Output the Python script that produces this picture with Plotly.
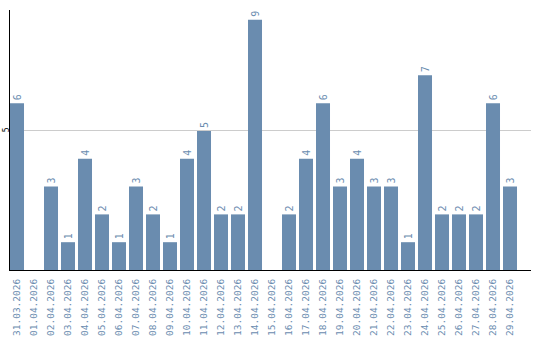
import plotly.graph_objects as go

dates = ["31.03.2026", "01.04.2026", "02.04.2026", "03.04.2026", "04.04.2026", "05.04.2026",
         "06.04.2026", "07.04.2026", "08.04.2026", "09.04.2026", "10.04.2026", "11.04.2026",
         "12.04.2026", "13.04.2026", "14.04.2026", "15.04.2026", "16.04.2026", "17.04.2026",
         "18.04.2026", "19.04.2026", "20.04.2026", "21.04.2026", "22.04.2026", "23.04.2026",
         "24.04.2026", "25.04.2026", "26.04.2026", "27.04.2026", "28.04.2026", "29.04.2026"]
counts = [6, 0, 3, 1, 4, 2, 1, 3, 2, 1, 4, 5, 2, 2, 9, 0, 2, 4, 6, 3, 4, 3, 3, 1, 7, 2, 2, 2, 6, 3]

color = "#6a8caf"
labels = [str(v) if v else "" for v in counts]

fig = go.Figure(go.Bar(
    x=dates, y=counts, marker_color=color, marker_line_width=0,
    text=labels, textposition="outside", textangle=-90,
    textfont=dict(family="DejaVu Sans Mono", size=10, color=color),
    cliponaxis=False, constraintext="none", hoverinfo="skip",
))

fig.update_layout(
    width=540, height=340, margin=dict(l=10, r=9, t=10, b=70),
    paper_bgcolor="white", plot_bgcolor="white", showlegend=False, bargap=0.176,
    xaxis=dict(type="category", range=[-0.412, 30.235], showgrid=False, automargin=False,
               showline=True, linecolor="black", linewidth=1,
               tickangle=-90, ticks="outside", ticklen=4, tickcolor="white",
               tickfont=dict(family="DejaVu Sans Mono", size=9.5, color=color)),
    yaxis=dict(range=[0, 9.35], tickvals=[5], ticktext=["5"], showgrid=True, automargin=False,
               gridcolor="#cccccc", gridwidth=1, zeroline=False,
               showline=True, linecolor="black", linewidth=1,
               tickangle=-90, ticks="", ticklabelstandoff=-3,
               tickfont=dict(family="DejaVu Sans Mono", size=8, color="black")),
)

fig.write_html("out.html")
